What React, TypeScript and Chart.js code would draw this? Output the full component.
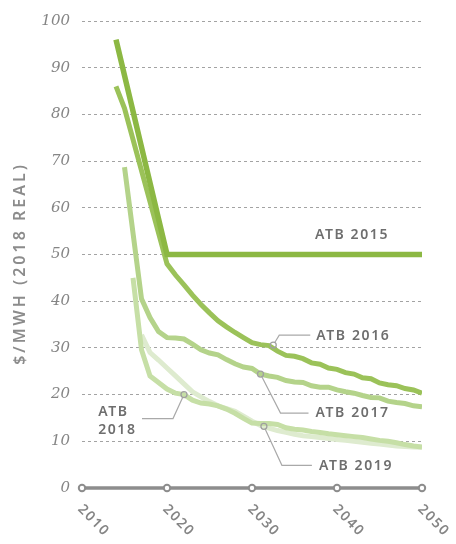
import React, { useEffect, useRef } from "react";
import { Chart, registerables } from "chart.js";

Chart.register(...registerables);

// ---------- DATA ----------
const xTickYears = [2010, 2020, 2030, 2040, 2050];
const xTickLabels = ["2010", "2020", "2030", "2040", "2050"];
const yTitle = "$/MWH (2018 REAL)";

const years2015 = [2014, 2020, 2030, 2040, 2050];
const atb2015 = [96, 50, 50, 50, 50];

const years2016 = [2014, 2015, 2020, 2021, 2022, 2023, 2024, 2025, 2026, 2027, 2028, 2029, 2030, 2031, 2032, 2033, 2034, 2035, 2036, 2037, 2038, 2039, 2040, 2041, 2042, 2043, 2044, 2045, 2046, 2047, 2048, 2049, 2050];
const atb2016 = [86, 81.3, 48, 45.6, 43.5, 41.3, 39.3, 37.5, 35.8, 34.5, 33.3, 32.2, 31.1, 30.7, 30.5, 29.3, 28.4, 28.2, 27.7, 26.8, 26.5, 25.7, 25.4, 24.7, 24.4, 23.6, 23.4, 22.5, 22.1, 21.9, 21.3, 21.0, 20.3];

const years2017 = [2015, 2017, 2018, 2019, 2020, 2021, 2022, 2023, 2024, 2025, 2026, 2027, 2028, 2029, 2030, 2031, 2032, 2033, 2034, 2035, 2036, 2037, 2038, 2039, 2040, 2041, 2042, 2043, 2044, 2045, 2046, 2047, 2048, 2049, 2050];
const atb2017 = [68.7, 40.5, 36.5, 33.5, 32.2, 32.1, 31.9, 30.8, 29.6, 28.9, 28.5, 27.5, 26.6, 25.9, 25.6, 24.4, 24.0, 23.7, 23.0, 22.7, 22.6, 21.9, 21.6, 21.6, 21.0, 20.6, 20.3, 19.8, 19.4, 19.3, 18.6, 18.3, 18.1, 17.6, 17.4];

const years2018 = [2016, 2017, 2018, 2019, 2020, 2021, 2022, 2023, 2024, 2025, 2026, 2027, 2028, 2029, 2030, 2031, 2032, 2033, 2034, 2035, 2036, 2037, 2038, 2039, 2040, 2041, 2042, 2043, 2044, 2045, 2046, 2047, 2048, 2049, 2050];
const atb2018 = [45, 29.6, 24.0, 22.6, 21.2, 20.3, 20.0, 18.8, 18.2, 18.0, 17.6, 16.9, 16.0, 14.9, 13.9, 13.8, 13.8, 13.6, 12.9, 12.6, 12.4, 12.1, 11.9, 11.6, 11.4, 11.2, 11.0, 10.8, 10.5, 10.2, 10.0, 9.7, 9.3, 9.0, 8.8];

const years2019 = [2017, 2018, 2019, 2020, 2021, 2022, 2023, 2024, 2025, 2026, 2027, 2028, 2029, 2030, 2031, 2032, 2033, 2034, 2035, 2036, 2037, 2038, 2039, 2040, 2041, 2042, 2043, 2044, 2045, 2046, 2047, 2048, 2049, 2050];
const atb2019 = [32.8, 29.0, 27.4, 25.7, 24.0, 22.3, 20.6, 19.5, 18.5, 17.6, 17.0, 16.4, 15.4, 14.3, 13.4, 12.8, 12.3, 11.9, 11.5, 11.2, 11.0, 10.8, 10.6, 10.4, 10.2, 10.0, 9.8, 9.6, 9.4, 9.2, 9.0, 8.9, 8.8, 8.7];

const seriesNames = ["ATB 2015", "ATB 2016", "ATB 2017", "ATB 2018", "ATB 2019"];

// annotation anchor points on the lines (year, value)
const anchorNames = ["ATB 2016", "ATB 2017", "ATB 2018", "ATB 2019"];
const anchorYears = [2032.5, 2031.0, 2022.0, 2031.4];
const anchorValues = [30.6, 24.4, 20.0, 13.2];
const label2015Year = 2037.4;
const label2015Value = 50;

// ---------- STYLE ----------
const colors = ["#8cb843", "#9bc259", "#b4d38a", "#c6dfa6", "#deebcf"];
const widths = [5.5, 5, 5, 5, 5];
const labelFont = "600 14px 'Noto Sans'";
const labelColor = "#6e6e6e";
const gray = "#8d8d8d";

// relative pixel geometry of annotation connectors: [elbowDx, elbowDy, endDx, textDx, textDy]
const connectorGeom = [
  [6, -10, 37, 43, -9],
  [20, 39, 48, 55, 39],
  [-11, 24, -42, 0, 0],
  [18, 39, 48, 55, 40],
];

function zip(xs: number[], ys: number[]) {
  return xs.map((x, i) => ({ x, y: ys[i] }));
}

const overlay = {
  id: "overlay",
  afterDatasetsDraw(chart: any) {
    const { ctx } = chart;
    const xs = chart.scales.x;
    const ys = chart.scales.y;
    ctx.save();

    // y title
    ctx.save();
    ctx.translate(20.5, 263.5);
    ctx.rotate(-Math.PI / 2);
    ctx.font = "600 16px 'Noto Sans'";
    (ctx as any).letterSpacing = "3px";
    ctx.fillStyle = "#8c8c8c";
    ctx.textAlign = "center";
    ctx.textBaseline = "middle";
    ctx.fillText(yTitle, 0, 0);
    ctx.restore();

    // x axis line
    const y0 = ys.getPixelForValue(0);
    ctx.strokeStyle = gray;
    ctx.lineWidth = 3.5;
    ctx.beginPath();
    ctx.moveTo(xs.getPixelForValue(xTickYears[0]), y0);
    ctx.lineTo(xs.getPixelForValue(xTickYears[xTickYears.length - 1]), y0);
    ctx.stroke();
    xTickYears.forEach((yr, i) => {
      const px = xs.getPixelForValue(yr);
      ctx.beginPath();
      ctx.arc(px, y0, 3.2, 0, Math.PI * 2);
      ctx.fillStyle = "#ffffff";
      ctx.fill();
      ctx.lineWidth = 2;
      ctx.strokeStyle = gray;
      ctx.stroke();
      ctx.save();
      ctx.translate(px - 2, y0 + 19);
      ctx.rotate(Math.PI / 4);
      ctx.font = "600 14px 'Noto Sans'";
      (ctx as any).letterSpacing = "1.6px";
      ctx.fillStyle = "#858585";
      ctx.textAlign = "left";
      ctx.textBaseline = "middle";
      ctx.fillText(xTickLabels[i], 0, 0);
      ctx.restore();
    });

    // ATB 2015 label
    ctx.font = labelFont;
    (ctx as any).letterSpacing = "1.6px";
    ctx.fillStyle = labelColor;
    ctx.textAlign = "left";
    ctx.textBaseline = "middle";
    ctx.fillText(seriesNames[0], xs.getPixelForValue(label2015Year), ys.getPixelForValue(label2015Value) - 19);

    // annotations
    anchorNames.forEach((name, i) => {
      const cx = xs.getPixelForValue(anchorYears[i]);
      const cy = ys.getPixelForValue(anchorValues[i]);
      const g = connectorGeom[i];
      ctx.strokeStyle = "#a9a9a9";
      ctx.lineWidth = 1.2;
      const ex = cx + g[0];
      const ey = cy + g[1];
      const len = Math.hypot(g[0], g[1]);
      ctx.beginPath();
      ctx.moveTo(cx + (g[0] / len) * 3, cy + (g[1] / len) * 3);
      ctx.lineTo(ex, ey);
      ctx.lineTo(cx + g[2], ey);
      ctx.stroke();
      ctx.beginPath();
      ctx.arc(cx, cy, 3, 0, Math.PI * 2);
      ctx.lineWidth = 1.3;
      ctx.strokeStyle = "#a0a0a0";
      ctx.stroke();
      ctx.fillStyle = labelColor;
      if (i === 2) {
        const parts = name.split(" ");
        const lx = xs.getPixelForValue(2011.9);
        ctx.fillText(parts[0], lx, cy + 17);
        ctx.fillText(parts[1], lx, cy + 35);
      } else {
        ctx.fillText(name, cx + g[3], cy + g[4]);
      }
    });

    ctx.restore();
  },
};

export default function App() {
  const ref = useRef<HTMLCanvasElement | null>(null);
  useEffect(() => {
    if (!ref.current) return;
    const yearsList = [years2015, years2016, years2017, years2018, years2019];
    const valuesList = [atb2015, atb2016, atb2017, atb2018, atb2019];
    const chart = new Chart(ref.current, {
      type: "line",
      data: {
        datasets: seriesNames.map((name, i) => ({
          label: name,
          data: zip(yearsList[i], valuesList[i]),
          borderColor: colors[i],
          backgroundColor: colors[i],
          borderWidth: widths[i],
          pointRadius: 0,
          tension: 0,
          fill: false,
          borderCapStyle: "butt",
          borderJoinStyle: "miter",
        })),
      },
      options: {
        animation: false,
        responsive: false,
        devicePixelRatio: 1,
        parsing: false as any,
        layout: { padding: { left: 0, right: 34, top: 20, bottom: 56 } },
        plugins: { legend: { display: false }, tooltip: { enabled: false } },
        scales: {
          x: { type: "linear", min: 2010, max: 2050, display: false },
          y: {
            type: "linear",
            min: 0,
            max: 100,
            afterFit: (s: any) => {
              s.width = 82;
            },
            ticks: {
              stepSize: 10,
              padding: 12,
              color: "#858585",
              font: { family: "'DejaVu Serif'", style: "italic", size: 15 },
            },
            grid: {
              drawTicks: false,
              color: (c: any) => (c.tick && c.tick.value === 0 ? "rgba(0,0,0,0)" : "#a3a3a3"),
              lineWidth: 1,
            },
            border: { display: false, dash: [3, 3] },
          },
        },
      },
      plugins: [overlay],
    });
    return () => chart.destroy();
  }, []);
  return (
    <div style={{ position: "fixed", left: 0, top: 0, width: 456, height: 544, background: "#fff" }}>
      <canvas ref={ref} width={456} height={544} style={{ display: "block" }} />
    </div>
  );
}
